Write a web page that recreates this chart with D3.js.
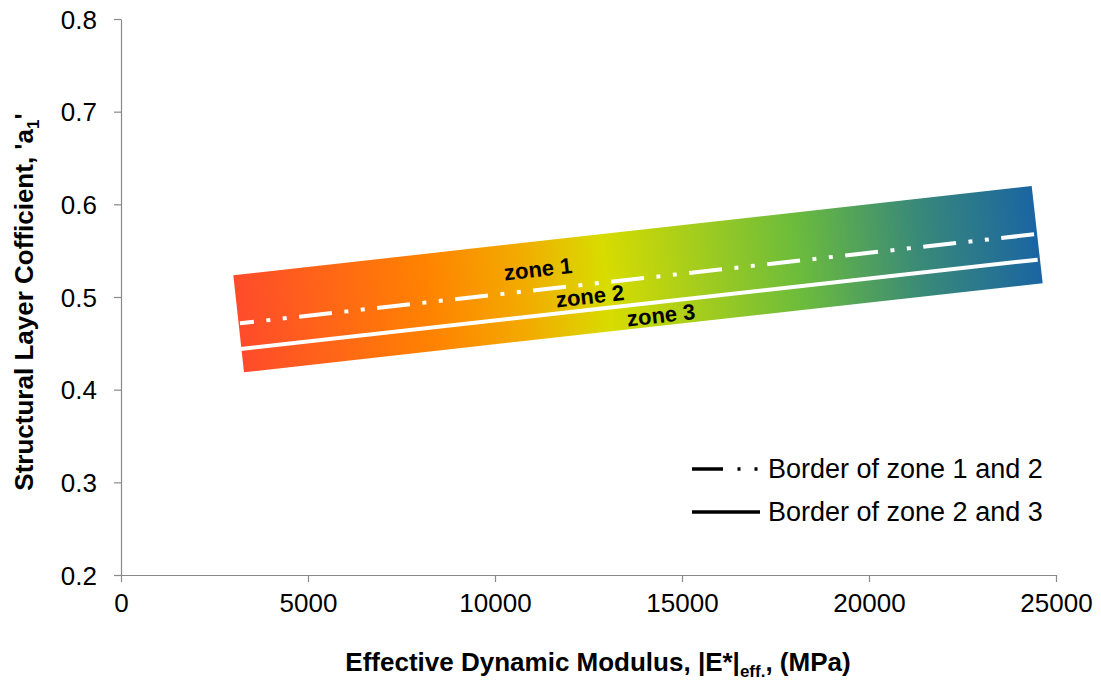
<!DOCTYPE html>
<meta charset="utf-8">
<style>
body{margin:0;background:#fff;}
text{font-family:Arial,"Liberation Sans",Helvetica,sans-serif;}
.axis path,.axis line{stroke:#898989;stroke-width:1.2px;}
.axis text{font-size:26px;fill:#000;}
.title{font-size:26px;font-weight:bold;}
.zone{font-size:22px;font-weight:bold;}
.legend text{font-size:27px;}
</style>
<body>
<script src="https://d3js.org/d3.v7.min.js"></script>
<script>

// band corners [modulus, coefficient], clockwise from top-left
var bandX=[3003,24350,24644,3289];
var bandY=[0.5234,0.6198,0.5148,0.4188];
// border lines (start, end)
var border12X=[3182,24492], border12Y=[0.4716,0.568];
var border23X=[3200,24510], border23Y=[0.4439,0.5403];
// zone labels
var zoneNames=["zone 1","zone 2","zone 3"];
var zoneX=[11150,12540,14439];
var zoneY=[0.5302,0.5011,0.4806];
// gradient along the band
var gradOffsets=[0,0.24,0.36,0.46,0.70,0.85,1];
var gradColors=["#ff4b2b","#ff8300","#f2ac00","#d8dc00","#6cbc3c","#3a8a78","#1a65a2"];
// ticks
var xTicks=[0,5000,10000,15000,20000,25000];
var yTicks=[0.2,0.3,0.4,0.5,0.6,0.7,0.8];
var legendLabels=["Border of zone 1 and 2","Border of zone 2 and 3"];

var W=1101,H=680;
var svg=d3.select("body").append("svg").attr("width",W).attr("height",H);

var x=d3.scaleLinear().domain([0,25000]).range([121,1056]);
var y=d3.scaleLinear().domain([0.2,0.8]).range([575,19]);

// axes
svg.append("g").attr("class","axis").attr("transform","translate(0,"+y(0.2)+")")
	.call(d3.axisBottom(x).tickValues(xTicks).tickFormat(d3.format("d")).tickSize(7).tickSizeOuter(0).tickPadding(12))
	.call(g=>g.selectAll("text").attr("dy","0.71em"));
svg.append("g").attr("class","axis").attr("transform","translate("+x(0)+",0)")
	.call(d3.axisLeft(y).tickValues(yTicks).tickFormat(d3.format(".1f")).tickSize(7).tickSizeOuter(0).tickPadding(17))
	.call(g=>g.selectAll("text").attr("dy","0.35em"));

// gradient band
var pts=bandX.map((v,i)=>[x(v),y(bandY[i])]);
var lx=(pts[0][0]+pts[3][0])/2, ly=(pts[0][1]+pts[3][1])/2;
var rx=(pts[1][0]+pts[2][0])/2, ry=(pts[1][1]+pts[2][1])/2;
var grad=svg.append("defs").append("linearGradient").attr("id","band")
	.attr("gradientUnits","userSpaceOnUse")
	.attr("x1",lx).attr("y1",ly).attr("x2",rx).attr("y2",ry);
grad.selectAll("stop").data(gradOffsets).join("stop")
	.attr("offset",d=>d).attr("stop-color",(d,i)=>gradColors[i]);
svg.append("path").attr("d",d3.line()(pts)+"Z").attr("fill","url(#band)");

var angle=Math.atan2(ry-ly,rx-lx)*180/Math.PI;

// border lines
var line=d3.line().x(d=>x(d[0])).y(d=>y(d[1]));
svg.append("path").attr("d",line(border12X.map((v,i)=>[v,border12Y[i]])))
	.attr("fill","none").attr("stroke","#fff").attr("stroke-width",4)
	.attr("stroke-dasharray","33,12.5,4,12.5,4,12.5").attr("stroke-dashoffset",19);
svg.append("path").attr("d",line(border23X.map((v,i)=>[v,border23Y[i]])))
	.attr("fill","none").attr("stroke","#fff").attr("stroke-width",4);

// zone labels
svg.selectAll(".zone").data(zoneNames).join("text").attr("class","zone")
	.attr("text-anchor","middle").attr("dy","0.35em")
	.attr("transform",(d,i)=>"translate("+x(zoneX[i])+","+y(zoneY[i])+") rotate("+angle+")")
	.text(d=>d);

// legend
var lg=svg.append("g").attr("class","legend");
lg.append("line").attr("x1",692).attr("x2",758).attr("y1",469).attr("y2",469)
	.attr("stroke","#000").attr("stroke-width",3.5).attr("stroke-dasharray","31,14.5,3,14,3");
lg.append("line").attr("x1",692).attr("x2",760).attr("y1",512).attr("y2",512)
	.attr("stroke","#000").attr("stroke-width",3.5);
lg.selectAll("text").data(legendLabels).join("text")
	.attr("x",768).attr("y",(d,i)=>469+i*43).attr("dy","0.35em").text(d=>d);

// axis titles
var xt=svg.append("text").attr("class","title").attr("text-anchor","middle")
	.attr("x",598).attr("y",671);
xt.append("tspan").text("Effective Dynamic Modulus, |E*|");
xt.append("tspan").attr("font-size","17px").attr("dy",6).text("eff.");
xt.append("tspan").attr("dy",-6).text(", (MPa)");

var yt=svg.append("text").attr("class","title").attr("text-anchor","middle")
	.attr("transform","translate(33,302) rotate(-90)");
yt.append("tspan").text("Structural Layer Cofficient, 'a");
yt.append("tspan").attr("font-size","17px").attr("dy",6).text("1");
yt.append("tspan").attr("dy",-6).text("'");

</script>
</body>
